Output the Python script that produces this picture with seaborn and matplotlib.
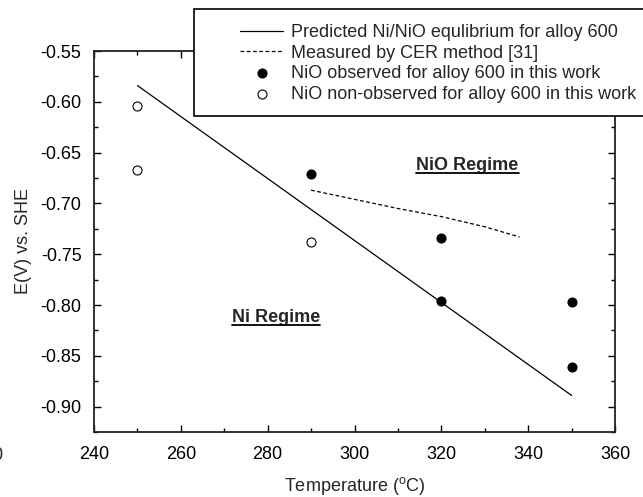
import matplotlib
matplotlib.use("Agg")
import matplotlib.pyplot as plt
from matplotlib.lines import Line2D
from matplotlib.patches import Rectangle
import seaborn as sns
import numpy as np

# Data
pred_T = [250, 350]
pred_E = [-0.584, -0.889]
cer_T = [290, 300, 310, 320, 330, 338]
cer_E = [-0.687, -0.696, -0.705, -0.713, -0.723, -0.733]
obs_T = [290, 320, 320, 350, 350]
obs_E = [-0.671, -0.734, -0.796, -0.797, -0.861]
non_T = [250, 250, 290]
non_E = [-0.604, -0.667, -0.738]

labels = ["Predicted Ni/NiO equlibrium for alloy 600",
          "Measured by CER method [31]",
          "NiO observed for alloy 600 in this work",
          "NiO non-observed for alloy 600 in this work"]

sns.set_style("ticks")
plt.rcParams['font.family'] = ['Liberation Sans', 'DejaVu Sans']

fig = plt.figure(figsize=(6.43, 4.97), dpi=100)
ax = fig.add_axes([94/643, 1-432/497, (615-94)/643, (432-51)/497])

sns.lineplot(x=pred_T, y=pred_E, ax=ax, color='black', lw=0.9, label=labels[0])
sns.lineplot(x=cer_T, y=cer_E, ax=ax, color='black', lw=0.9, linestyle=(0, (3, 2)), label=labels[1])
sns.scatterplot(x=obs_T, y=obs_E, ax=ax, color='black', edgecolor='black', s=42, linewidth=0.8, label=labels[2], zorder=3)
sns.scatterplot(x=non_T, y=non_E, ax=ax, color='white', edgecolor='black', s=42, linewidth=0.8, label=labels[3], zorder=3)

ax.set_xlim(240, 360)
ax.set_ylim(-0.925, -0.55)
ax.set_xticks([240, 260, 280, 300, 320, 340, 360])
ax.set_xticks(np.arange(250, 360, 20), minor=True)
ax.set_yticks([-0.90, -0.85, -0.80, -0.75, -0.70, -0.65, -0.60, -0.55])
ax.set_yticks(np.arange(-0.925, -0.549, 0.025), minor=True)
ax.yaxis.set_major_formatter(matplotlib.ticker.FormatStrFormatter('%.2f'))
ax.tick_params(which='both', direction='in', top=True, right=True, labelsize=13, width=1.0, colors='black')
ax.tick_params(which='major', length=5)
ax.tick_params(which='minor', length=3)
ax.tick_params(axis='x', which='major', pad=10)
ax.tick_params(axis='y', which='major', pad=9)
for s in ax.spines.values():
    s.set_linewidth(1.3)
    s.set_color('#222222')

ax.set_xlabel("Temperature ($\\mathregular{^{o}}$C)", fontsize=13, labelpad=9)
ax.set_ylabel("E(V) vs. SHE", fontsize=13, labelpad=6)

ax.get_legend().remove()
h, l = ax.get_legend_handles_labels()
leg = fig.legend(h, l, loc='upper left', bbox_to_anchor=(240/643, 1-24/497), fontsize=13,
                 frameon=False, handlelength=2.4, handletextpad=0.4, borderpad=0,
                 labelspacing=0.2, borderaxespad=0)
fig.add_artist(Rectangle((194/643, 1-116/497), (660-194)/643, (116-9)/497,
                         transform=fig.transFigure, facecolor='white', edgecolor='black',
                         lw=1.2, zorder=2.5))
leg.set_zorder(3)

t1 = ax.text(326, -0.663, "NiO Regime", fontsize=13, fontweight='bold', ha='center', va='center')
t2 = ax.text(282, -0.812, "Ni Regime", fontsize=13, fontweight='bold', ha='center', va='center')

fig.text(-0.004, 1-455/497, "0", fontsize=13, ha='center', va='center')

fig.canvas.draw()
r = fig.canvas.get_renderer()
for t in (t1, t2):
    bb = t.get_window_extent(r).transformed(fig.transFigure.inverted())
    fig.add_artist(Line2D([bb.x0, bb.x1], [bb.y0 + 0.002, bb.y0 + 0.002], color='black', lw=1.3, transform=fig.transFigure))

fig.savefig("out.png", dpi=100)
